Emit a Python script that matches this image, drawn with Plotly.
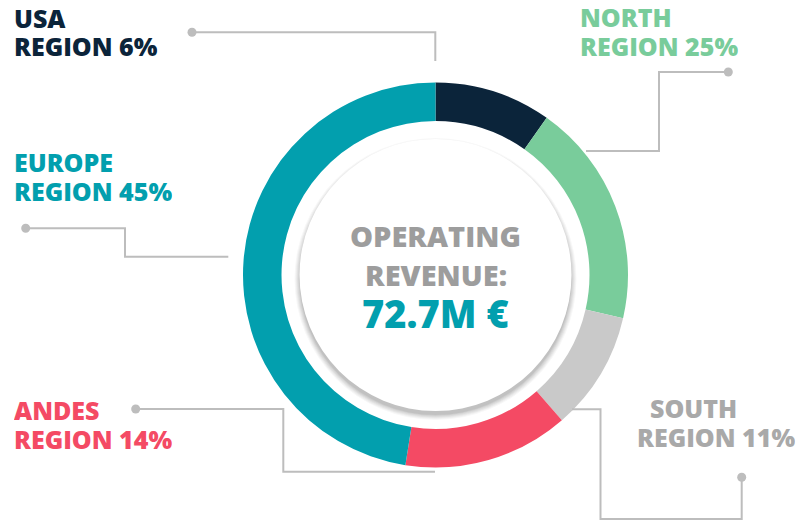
import plotly.graph_objects as go

W, H = 801, 522

regions = ["USA", "NORTH", "SOUTH", "ANDES", "EUROPE"]
slice_values = [9.8, 18.8, 10.0, 13.9, 47.5]
label_pcts = ["6%", "25%", "11%", "14%", "45%"]
colors = ["#0b243a", "#79cc9b", "#c9c9c9", "#f44a64", "#029fae"]
label_colors = ["#0b243a", "#79cc9b", "#a9a9a9", "#f44a64", "#029fae"]
center_lines = ["OPERATING", "REVENUE:"]
center_value = "72.7M €"


def px(x):
    return x / W


def py(y):
    return 1 - y / H


cx, cy, R = 435.5, 275.0, 192.5

fig = go.Figure()
fig.add_trace(go.Pie(
    labels=regions, values=slice_values, hole=0.8, sort=False,
    direction="clockwise", rotation=0,
    marker=dict(colors=colors, line=dict(width=0)),
    textinfo="none", hoverinfo="label+value", showlegend=False,
    domain=dict(x=[px(cx - R), px(cx + R)], y=[py(cy + R), py(cy - R)]),
))

shapes = []
# soft shadow of centre disc
rc, ccy = 136.0, 275.0
for k, op in enumerate([0.03, 0.035, 0.04, 0.045, 0.05, 0.06]):
    r = rc + 5 - k
    oy = 4.0
    shapes.append(dict(type="circle", xref="paper", yref="paper",
                       x0=px(cx - r), x1=px(cx + r), y0=py(ccy + oy + r), y1=py(ccy + oy - r),
                       fillcolor=f"rgba(0,0,0,{op})", line=dict(width=0)))
shapes.append(dict(type="circle", xref="paper", yref="paper",
                   x0=px(cx - rc), x1=px(cx + rc), y0=py(ccy + rc), y1=py(ccy - rc),
                   fillcolor="white", line=dict(width=0)))

lc = "#bdbdbd"
leaders = [
    [(192, 32.3), (435.3, 32.3), (435.3, 61)],
    [(728.3, 72), (659, 72), (659, 151), (586, 151)],
    [(741.7, 477.3), (741.7, 519), (600.5, 519), (600.5, 409.3), (572, 409.3)],
    [(135.7, 409), (283.3, 409), (283.3, 471.7), (435, 471.7)],
    [(25.7, 228.3), (125, 228.3), (125, 256.7), (228.3, 256.7)],
]
for pts in leaders:
    path = "M " + " L ".join(f"{px(x):.5f},{py(y):.5f}" for x, y in pts)
    shapes.append(dict(type="path", xref="paper", yref="paper", path=path,
                       line=dict(color=lc, width=2)))
    dx, dy = pts[0]
    shapes.append(dict(type="circle", xref="paper", yref="paper",
                       x0=px(dx - 4.5), x1=px(dx + 4.5), y0=py(dy + 4.5), y1=py(dy - 4.5),
                       fillcolor=lc, line=dict(width=0)))

FONT = "Open Sans"
annotations = []
# (x, anchor of line 1, y line 1, x line 2, anchor line 2, y line 2)
label_pos = [
    (12, "left", 17.7, 12, "left", 46),
    (578, "left", 17.5, 578, "left", 46),
    (648, "left", 407.5, 797, "right", 436.5),
    (12, "left", 410, 12, "left", 439),
    (12, "left", 162, 12, "left", 190.5),
]
for name, pct, col, (x1, a1, y1, x2, a2, y2) in zip(regions, label_pcts, label_colors, label_pos):
    for txt, xx, aa, yy in [(name, x1, a1, y1), (f"REGION {pct}", x2, a2, y2)]:
        annotations.append(dict(text=txt, x=px(xx), y=py(yy), xref="paper", yref="paper",
                                xanchor=aa, yanchor="middle", showarrow=False, height=24,
                                font=dict(family=FONT, size=25, color=col, weight=800)))

for txt, yy in zip(center_lines, [234.5, 273.7]):
    annotations.append(dict(text=txt, x=px(435.8), y=py(yy), xref="paper", yref="paper",
                            xanchor="center", yanchor="middle", showarrow=False, height=32,
                            font=dict(family=FONT, size=29, color="#9d9d9d", weight=800)))
annotations.append(dict(text=center_value, x=px(435.8), y=py(313), xref="paper", yref="paper",
                        xanchor="center", yanchor="middle", showarrow=False, height=40,
                        font=dict(family=FONT, size=38, color="#029fae", weight=800)))

fig.update_layout(width=W, height=H, margin=dict(l=0, r=0, t=0, b=0),
                  paper_bgcolor="white", plot_bgcolor="white",
                  shapes=shapes, annotations=annotations)

fig.write_html("out.html", config={"displayModeBar": False},
               post_script="document.body.style.margin='0';document.body.style.padding='0';document.body.style.overflow='hidden';")
